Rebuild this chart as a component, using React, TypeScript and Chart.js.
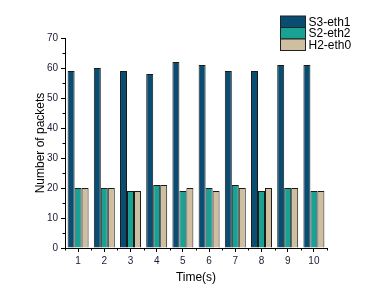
import React, { useEffect, useRef } from "react";
import { Chart, registerables } from "chart.js";

Chart.register(...registerables);

const categories = ["1", "2", "3", "4", "5", "6", "7", "8", "9", "10"];
const s3eth1 = [59, 60, 59, 58, 62, 61, 59, 59, 61, 61];
const s2eth2 = [20, 20, 19, 21, 19, 20, 21, 19, 20, 19];
const h2eth0 = [20, 20, 19, 21, 20, 19, 20, 20, 20, 19];
const seriesNames = ["S3-eth1", "S2-eth2", "H2-eth0"];
const seriesColors = ["#0a4d73", "#17a293", "#cfbfa1"];
const yMin = 0;
const yMax = 70;
const yStep = 10;

const FONT = "'Liberation Sans', Arial, sans-serif";

const minorTicks = {
  id: "minorTicks",
  afterDraw(chart: any) {
    const ctx = chart.ctx;
    const x = chart.scales.x;
    const y = chart.scales.y;
    ctx.save();
    ctx.strokeStyle = "#000";
    ctx.lineWidth = 1;
    ctx.beginPath();
    for (let v = yMin + yStep / 2; v < yMax; v += yStep) {
      const py = Math.round(y.getPixelForValue(v)) + 0.5;
      ctx.moveTo(x.left - 2.5, py);
      ctx.lineTo(x.left, py);
    }
    const n = categories.length;
    const w = (x.right - x.left) / n;
    for (let i = 0; i <= n; i++) {
      const px = Math.round(x.left + i * w) + 0.5;
      ctx.moveTo(px, y.bottom);
      ctx.lineTo(px, y.bottom + 2.5);
    }
    ctx.stroke();
    ctx.restore();
  },
};

const customLegend = {
  id: "customLegend",
  afterDraw(chart: any) {
    const ctx = chart.ctx;
    ctx.save();
    const bx = 280.5;
    const bw = 25;
    const bh = 11.5;
    let by = 16;
    ctx.font = `12px ${FONT}`;
    ctx.textBaseline = "middle";
    chart.data.datasets.forEach((ds: any) => {
      ctx.fillStyle = ds.backgroundColor;
      ctx.fillRect(bx, by, bw, bh);
      ctx.strokeStyle = "#222";
      ctx.lineWidth = 1;
      ctx.strokeRect(bx, by, bw, bh);
      ctx.fillStyle = "#000";
      ctx.fillText(ds.label, bx + bw + 3, by + bh / 2 + 0.5);
      by += bh;
    });
    ctx.restore();
  },
};

export default function App() {
  const ref = useRef<HTMLCanvasElement | null>(null);
  useEffect(() => {
    if (!ref.current) return;
    const datasets = [s3eth1, s2eth2, h2eth0].map((d, i) => ({
      label: seriesNames[i],
      data: d,
      backgroundColor: seriesColors[i],
      borderColor: "#1a1a1a",
      borderWidth: 1,
      categoryPercentage: 0.8,
      barPercentage: 1.0,
    }));
    const chart = new Chart(ref.current, {
      type: "bar",
      data: { labels: categories, datasets },
      options: {
        animation: false,
        responsive: false,
        devicePixelRatio: 1,
        layout: { padding: { top: 38, right: 46, left: 33, bottom: 13 } },
        plugins: {
          legend: { display: false },
          tooltip: { enabled: false },
        },
        scales: {
          x: {
            grid: {
              offset: false,
              drawOnChartArea: false,
              drawTicks: true,
              tickLength: 4,
              color: "#000",
            },
            border: { display: true, color: "#000", width: 1 },
            ticks: {
              color: "#1a1a33",
              font: { family: FONT, size: 10 },
              padding: 3,
              maxRotation: 0,
            },
            title: {
              display: true,
              text: "Time(s)",
              color: "#000",
              font: { family: FONT, size: 12 },
              padding: { top: 3, bottom: 0 },
            },
            afterFit: (scale: any) => {
              scale.height = 37;
            },
          },
          y: {
            min: yMin,
            max: yMax,
            ticks: {
              stepSize: yStep,
              color: "#1a1a33",
              font: { family: FONT, size: 10 },
              padding: 3,
            },
            grid: {
              drawOnChartArea: false,
              drawTicks: true,
              tickLength: 4,
              color: "#000",
            },
            border: { display: true, color: "#000", width: 1 },
            title: {
              display: true,
              text: "Number of packets",
              color: "#000",
              font: { family: FONT, size: 12 },
              padding: { top: 0, bottom: 2 },
            },
            afterFit: (scale: any) => {
              scale.width = 32;
            },
          },
        },
      },
      plugins: [minorTicks, customLegend],
    });
    return () => chart.destroy();
  }, []);
  return (
    <div style={{ position: "fixed", left: 0, top: 0, width: 373, height: 298, background: "#fff" }}>
      <canvas ref={ref} width={373} height={298} style={{ display: "block" }} />
    </div>
  );
}
